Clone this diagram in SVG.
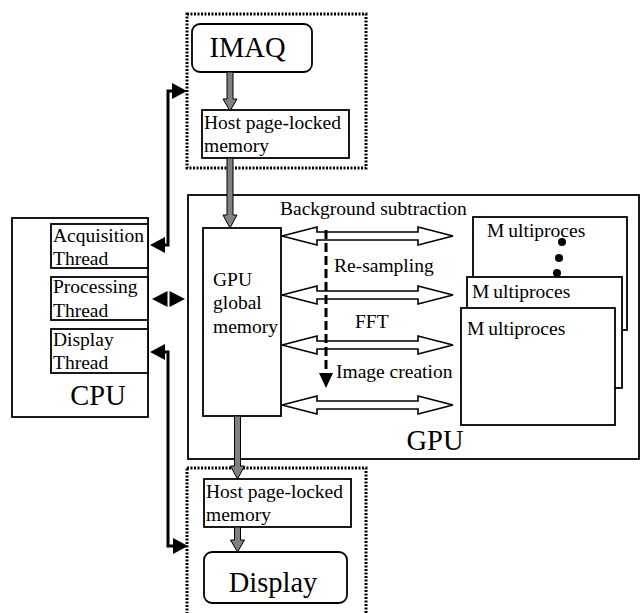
<svg xmlns="http://www.w3.org/2000/svg" width="642" height="613" viewBox="0 0 642 613">
<style>
text{font-family:"Liberation Serif","Times New Roman",serif;fill:#000}
.t{font-size:19.5px}
.big{font-size:28.5px}
.box{fill:#fff;stroke:#000;stroke-width:1.8}
.dot{fill:none;stroke:#000;stroke-width:3;stroke-dasharray:2 1.5}
.gray{fill:#808080;stroke:#000;stroke-width:1}
.blk{fill:none;stroke:#000;stroke-width:3}
.hd{fill:#000}
.hollow{fill:#fff;stroke:#000;stroke-width:1.6}
</style>
<rect width="642" height="613" fill="#fff"/>
<g id="acq-box"><rect class="dot" x="187" y="14" width="179" height="154"/></g>
<g id="disp-box"><rect class="dot" x="187" y="468" width="179" height="160"/></g>
<g id="imaq"><rect class="box" x="192" y="24" width="120" height="48" rx="8"/><text class="big" x="247.5" y="57" text-anchor="middle">IMAQ</text></g>
<g id="host1"><rect class="box" x="202" y="110" width="147" height="48"/><text class="t" x="204" y="129">Host page-locked</text><text class="t" x="204" y="152">memory</text></g>
<g id="cpu"><rect class="box" x="12" y="218" width="136" height="199"/><text class="big" x="98" y="405" text-anchor="middle">CPU</text></g>
<g id="acq-thread"><rect class="box" x="51" y="224" width="97" height="44"/><text class="t" x="53" y="242">Acquisition</text><text class="t" x="53" y="265">Thread</text></g>
<g id="proc-thread"><rect class="box" x="51" y="277" width="97" height="43"/><text class="t" x="53" y="293">Processing</text><text class="t" x="53" y="317">Thread</text></g>
<g id="disp-thread"><rect class="box" x="51" y="329" width="97" height="44"/><text class="t" x="53" y="346">Display</text><text class="t" x="53" y="369">Thread</text></g>
<g id="gpu"><rect class="box" x="188" y="195" width="451" height="264"/><text class="big" x="435" y="450" text-anchor="middle">GPU</text></g>
<g id="gpu-mem"><rect class="box" x="203" y="228" width="78" height="188"/><text class="t" x="213" y="286">GPU</text><text class="t" x="213" y="309">global</text><text class="t" x="213" y="333">memory</text></g>
<g id="mp3"><rect class="box" x="473" y="217" width="154" height="113"/><text class="t" x="487" y="237">M<tspan dx="4">ultiproces</tspan></text>
<circle cx="562" cy="242" r="4"/><circle cx="559" cy="258" r="4"/><circle cx="557" cy="273" r="4"/></g>
<g id="mp2"><rect class="box" x="467" y="277" width="155" height="111"/><text class="t" x="472" y="298">M<tspan dx="4">ultiproces</tspan></text></g>
<g id="mp1"><rect class="box" x="461" y="308" width="154" height="117"/><text class="t" x="467" y="335">M<tspan dx="4">ultiproces</tspan></text></g>
<g id="host2"><rect class="box" x="204" y="479" width="147" height="48"/><text class="t" x="206" y="498">Host page-locked</text><text class="t" x="206" y="521">memory</text></g>
<g id="display"><rect class="box" x="204" y="552" width="143" height="51" rx="8"/><text class="big" x="273" y="592" text-anchor="middle">Display</text></g>
<g id="labels">
<text class="t" x="280" y="215">Background subtraction</text>
<text class="t" x="334" y="272">Re-sampling</text>
<text class="t" x="355" y="328">FFT</text>
<text class="t" x="336" y="378">Image creation</text>
</g>
<g id="connectors">
<polygon class="gray" points="227,72 233,72 233,99 237,99 230,111 223,99 227,99"/>
<polygon class="gray" points="227,158 233,158 233,215 237,215 230,228 223,215 227,215"/>
<polygon class="gray" points="234.5,416 240.5,416 240.5,466 244.5,466 237.5,479 230.5,466 234.5,466"/>
<polygon class="gray" points="234.5,527 240.5,527 240.5,540 244.5,540 237.5,552 230.5,540 234.5,540"/>
<path class="blk" d="M163,245 H168 V91 H174"/>
<polygon class="hd" points="150,245 165,237 165,253"/>
<polygon class="hd" points="187,91 172,83 172,99"/>
<path class="blk" d="M163,352 H168 V546 H174"/>
<polygon class="hd" points="150,352 165,344 165,360"/>
<polygon class="hd" points="188,546 173,538 173,554"/>
<polygon class="hd" points="152,299 167.5,291 167.5,307"/>
<polygon class="hd" points="185,299 169.5,291 169.5,307"/>
<path class="hollow" d="M282,236 L317,227 L317,232 L418,232 L418,227 L453,236 L418,245 L418,240 L317,240 L317,245 Z"/>
<path class="hollow" d="M282,295 L317,286 L317,291 L418,291 L418,286 L453,295 L418,304 L418,299 L317,299 L317,304 Z"/>
<path class="hollow" d="M282,345 L317,336 L317,341 L418,341 L418,336 L453,345 L418,354 L418,349 L317,349 L317,354 Z"/>
<path class="hollow" d="M282,405 L317,396 L317,401 L418,401 L418,396 L453,405 L418,414 L418,409 L317,409 L317,414 Z"/>
<line x1="326" y1="230" x2="326" y2="374" stroke="#000" stroke-width="3" stroke-dasharray="9 4"/>
<polygon class="hd" points="319,373 333,373 326,388"/>
</g>
</svg>
